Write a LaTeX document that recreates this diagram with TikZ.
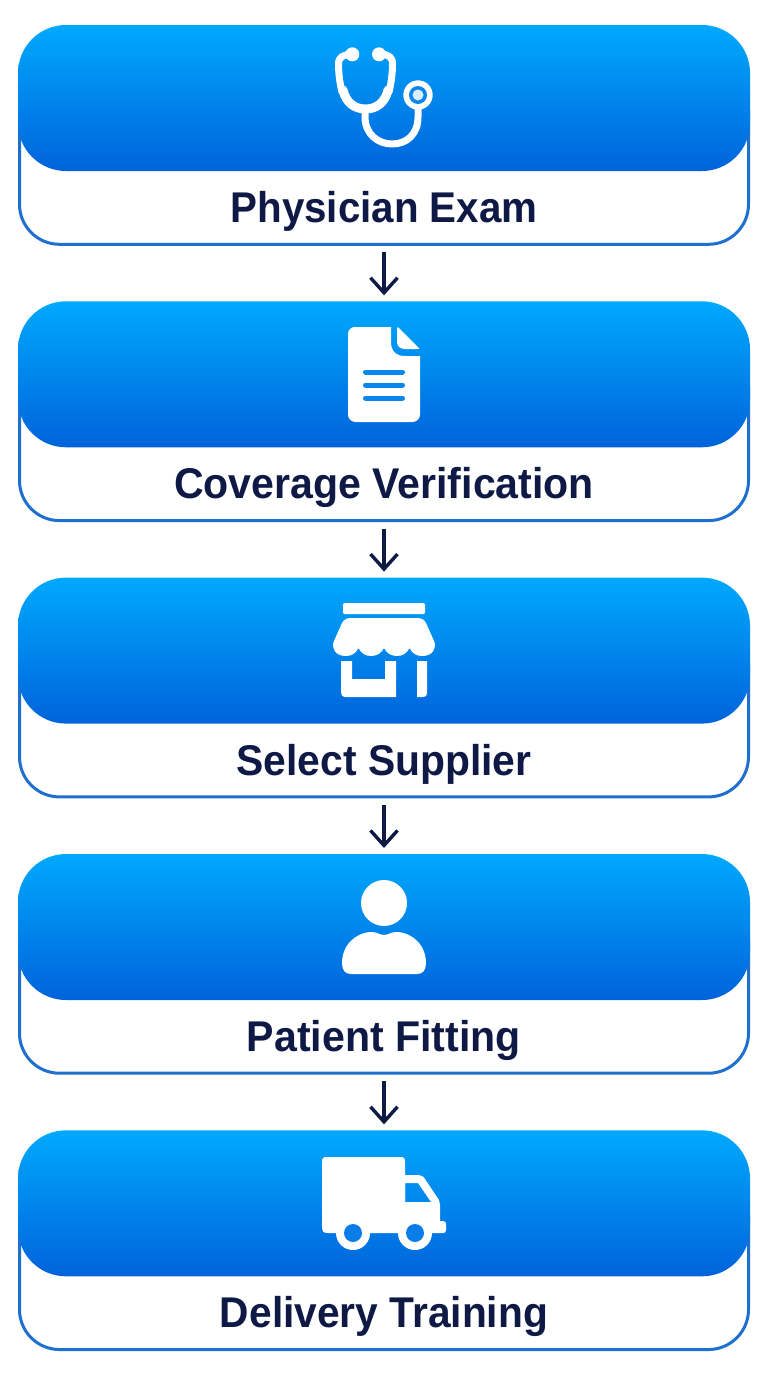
\documentclass[tikz,border=0pt]{standalone}
\usepackage{fontspec}
\usepackage{graphicx}
\setmainfont{Liberation Sans}
\usetikzlibrary{arrows.meta}
\definecolor{gradtop}{HTML}{00A9FD}
\definecolor{gradbot}{HTML}{0063DB}
\definecolor{edgeblue}{HTML}{1F6FCE}
\definecolor{inkblue}{HTML}{0E1A45}
\definecolor{holeA}{HTML}{0A86EC}
\definecolor{holeB}{HTML}{0A7DE6}
\tikzset{
  head/.style={minimum width=732pt,minimum height=146pt,inner sep=0pt,outer sep=0pt,anchor=north},
  card/.style={minimum width=729pt,minimum height=174pt,inner sep=0pt,outer sep=0pt,anchor=south},
  headfill/.style={top color=gradtop,bottom color=gradbot},
  cardline/.style={draw=edgeblue,line width=3pt,fill=white},
  steplabel/.style={text=inkblue,font=\fontsize{43}{50}\bfseries\selectfont,anchor=base,inner sep=0pt},
  flow/.style={draw=inkblue,line width=3.4pt,-{Straight Barb[length=15pt,width=27pt,line width=3.4pt]},shorten <=8pt,shorten >=6pt},
  icon/.style={fill=white,draw=none},
  tube/.style={draw=white,line cap=round,line join=round},
}
\newcommand{\fitlabel}[2]{\resizebox{#1pt}{\height}{#2}}
% rounded outline of node #2 with radius #3 and curve offset #4 (=0.4477 r)
\newcommand{\roundpath}[4]{%
  \path[#1] ([xshift=#3pt]#2.north west) -- ([xshift=-#3pt]#2.north east)
    .. controls ([xshift=-#4pt]#2.north east) and ([yshift=-#4pt]#2.north east) .. ([yshift=-#3pt]#2.north east)
    -- ([yshift=#3pt]#2.south east)
    .. controls ([yshift=#4pt]#2.south east) and ([xshift=-#4pt]#2.south east) .. ([xshift=-#3pt]#2.south east)
    -- ([xshift=#3pt]#2.south west)
    .. controls ([xshift=#4pt]#2.south west) and ([yshift=#4pt]#2.south west) .. ([yshift=#3pt]#2.south west)
    -- ([yshift=-#3pt]#2.north west)
    .. controls ([yshift=-#4pt]#2.north west) and ([xshift=#4pt]#2.north west) .. ([xshift=#3pt]#2.north west) -- cycle;}
\begin{document}
\begin{tikzpicture}[x=1pt,y=-1pt]
\useasboundingbox (0,0) rectangle (768,1376);
\fill[white] (0,0) rectangle (768,1376);
% cards
\node[card] (card1) at (384,244.3) {};
\node[card] (card2) at (384,520.6) {};
\node[card] (card3) at (384,796.9) {};
\node[card] (card4) at (384,1073.2) {};
\node[card] (card5) at (384,1349.5) {};
\roundpath{cardline}{card1}{40}{17.9}
\roundpath{cardline}{card2}{40}{17.9}
\roundpath{cardline}{card3}{40}{17.9}
\roundpath{cardline}{card4}{40}{17.9}
\roundpath{cardline}{card5}{40}{17.9}
% headers
\node[head] (head1) at (384,25) {};
\node[head] (head2) at (384,301.3) {};
\node[head] (head3) at (384,577.6) {};
\node[head] (head4) at (384,854) {};
\node[head] (head5) at (384,1130.3) {};
\roundpath{headfill}{head1}{48}{21.5}
\roundpath{headfill}{head2}{48}{21.5}
\roundpath{headfill}{head3}{48}{21.5}
\roundpath{headfill}{head4}{48}{21.5}
\roundpath{headfill}{head5}{48}{21.5}
% labels
\node[steplabel] (label1) at (384,222) {\fitlabel{307}{Physician Exam}};
\node[steplabel] (label2) at (384,498) {\fitlabel{420}{Coverage Verification}};
\node[steplabel] (label3) at (384,775) {\fitlabel{295}{Select Supplier}};
\node[steplabel] (label4) at (384,1051) {\fitlabel{274}{Patient Fitting}};
\node[steplabel] (label5) at (384,1327) {\fitlabel{328}{Delivery Training}};
% connectors
\draw[flow] (card1.south) -- (head2.north);
\draw[flow] (card2.south) -- (head3.north);
\draw[flow] (card3.south) -- (head4.north);
\draw[flow] (card4.south) -- (head5.north);
% stethoscope
\fill[icon] (352.3,54.3) circle[radius=7];
\fill[icon] (379,54.3) circle[radius=7];
\draw[tube,line width=7pt] (351,54) .. controls (343,55) and (338.5,57) .. (338.5,64) .. controls (338.5,74) and (340,84) .. (342,92);
\draw[tube,line width=7pt] (381,54) .. controls (389,55) and (392.5,57) .. (392.5,64) .. controls (392.5,74) and (391,84) .. (389,92);
\draw[tube,line width=9pt] (343,90) .. controls (346,103) and (355,109) .. (365.5,109) .. controls (376,109) and (385,103) .. (388,90);
\draw[tube,line width=7pt] (365,110) -- (365,117) .. controls (365,134) and (378,144) .. (392,144) .. controls (407,144) and (418,134) .. (418,117) -- (418,106);
\fill[icon] (418,95) circle[radius=14.7];
\fill[holeA] (418,95) circle[radius=9];
\fill[white!85!holeA] (418,95) circle[radius=5.5];
% document
\fill[icon] (355,327) -- (391,327) -- (391,342) .. controls (391,351) and (396,356) .. (405,356) -- (420,356) -- (420,414) .. controls (420,419) and (417,422) .. (412,422) -- (356,422) .. controls (351,422) and (348,419) .. (348,414) -- (348,334) .. controls (348,330) and (351,327) .. (355,327) -- cycle;
\fill[icon] (397,328) .. controls (397,327) and (398,327) .. (399,328) -- (419,348) .. controls (420,349) and (419,349) .. (418,349) -- (405,349) .. controls (400,349) and (397,346) .. (397,342) -- cycle;
\draw[holeA,line width=5pt,line cap=round] (365.5,372) -- (402.5,372);
\draw[holeA,line width=5pt,line cap=round] (365.5,385) -- (402.5,385);
\draw[holeA,line width=5pt,line cap=round] (365.5,398) -- (402.5,398);
% store
\fill[icon] (345,603) -- (423,603) .. controls (424.5,603) and (425,604) .. (425,605) -- (425,612) .. controls (425,613.5) and (424.5,614) .. (423,614) -- (345,614) .. controls (343.5,614) and (343,613.5) .. (343,612) -- (343,605) .. controls (343,604) and (343.5,603) .. (345,603) -- cycle;
\fill[icon] (349,618) -- (419,618) .. controls (422,618) and (424,620) .. (426,623) -- (434,641) .. controls (437,648) and (433,656) .. (422,656) .. controls (416,656) and (412,653) .. (409.5,648) .. controls (407,653) and (403,656) .. (397,656) .. controls (391,656) and (386.5,653) .. (384,648) .. controls (381.5,653) and (377,656) .. (371,656) .. controls (365,656) and (361,653) .. (358.5,648) .. controls (356,653) and (352,656) .. (346,656) .. controls (335,656) and (331,648) .. (334,641) -- (342,623) .. controls (344,620) and (346,618) .. (349,618) -- cycle;
\fill[icon] (341,661) -- (352,661) -- (352,679) -- (385,679) -- (385,661) -- (396,661) -- (396,697) -- (346,697) .. controls (342,697) and (341,695) .. (341,692) -- cycle;
\fill[icon] (417,661) -- (427,661) -- (427,693) .. controls (427,696) and (426,697) .. (423,697) -- (417,697) -- cycle;
% person
\fill[icon] (384,903) circle[radius=23];
\fill[icon] (342,963) .. controls (342,945) and (356,932) .. (372,932) .. controls (377,932) and (380,935) .. (384,935) .. controls (388,935) and (391,932) .. (396,932) .. controls (412,932) and (426,945) .. (426,963) .. controls (426,970) and (423,974) .. (417,974) -- (351,974) .. controls (345,974) and (342,970) .. (342,963) -- cycle;
% truck
\fill[icon] (327,1157) -- (400,1157) .. controls (404,1157) and (405,1158) .. (405,1162) -- (405,1233) -- (328,1233) .. controls (323,1233) and (322,1231) .. (322,1228) -- (322,1162) .. controls (322,1158) and (323,1157) .. (327,1157) -- cycle;
\fill[icon,even odd rule] (405,1175) -- (418,1175) .. controls (421,1175) and (423,1176) .. (425,1179) -- (439,1200) .. controls (440,1202) and (440,1203) .. (440,1205) -- (440,1221) -- (443,1221) .. controls (445,1221) and (446,1222) .. (446,1224) -- (446,1230) .. controls (446,1232) and (445,1233) .. (443,1233) -- (405,1233) -- cycle
  (405,1183) -- (418,1183) -- (431,1202) -- (405,1202) -- cycle;
\fill[icon] (353,1233) circle[radius=17];
\fill[icon] (415,1233) circle[radius=17];
\fill[holeB] (353,1233) circle[radius=9];
\fill[holeB] (415,1233) circle[radius=9];
\end{tikzpicture}
\end{document}
